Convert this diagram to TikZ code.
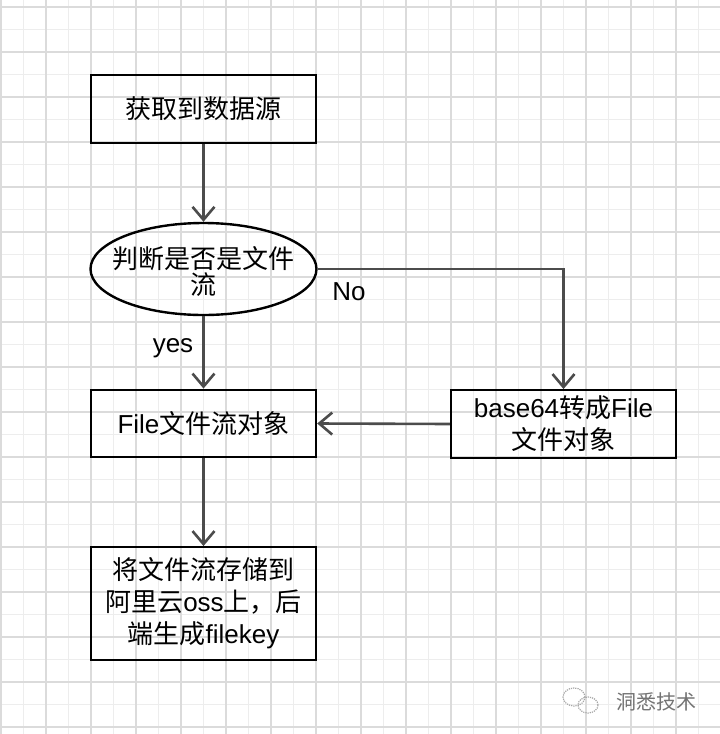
\documentclass[tikz,border=0pt]{standalone}
\usepackage{fontspec}
\setmainfont{Liberation Sans}
\newfontfamily\cjk{Noto Sans CJK SC}
\usetikzlibrary{arrows.meta,shapes.geometric}
\begin{document}
\begin{tikzpicture}[x=1pt,y=-1pt,
  box/.style={draw=black,line width=2.4pt,rectangle,minimum width=225pt,minimum height=67.5pt,inner sep=0pt,align=center,font=\fontsize{26}{32}\selectfont},
  txt/.style={inner sep=0pt,align=center,font=\fontsize{26}{32}\selectfont},
  arr/.style={draw=black!70,line width=2.6pt,-{Straight Barb[length=13pt,width=22pt]}},
  minorgrid/.style={draw=black!7,line width=1pt},
  majorgrid/.style={draw=black!14,line width=1.2pt}]
\useasboundingbox (0,0) rectangle (720,734);
\fill[white] (0,0) rectangle (720,734);
% grid
\foreach \i in {0,...,32} {\draw[minorgrid] ({23.5+45*\i-45},0) -- ({23.5+45*\i-45},734);}
\foreach \i in {0,...,33} {\draw[minorgrid] (0,{29.5+45*\i-45}) -- (720,{29.5+45*\i-45});}
\foreach \i in {0,...,16} {\draw[majorgrid] ({1+45*\i},0) -- ({1+45*\i},734);}
\foreach \i in {0,...,16} {\draw[majorgrid] (0,{7+45*\i}) -- (720,{7+45*\i});}
% nodes
\node[box] (src) at (203.5,109) {\cjk 获取到数据源};
\node[draw=black,line width=2.4pt,ellipse,minimum width=226pt,minimum height=92pt,inner sep=0pt] (dec) at (203.5,269) {};
\node[txt,font=\fontsize{26}{23}\selectfont] (dect) at (203.5,271.5) {\cjk 判断是否是文件\\\cjk 流};
\node[box] (file) at (203.5,423.5) {File{\cjk 文件流对象}};
\node[box] (b64) at (563.5,424) {base64{\cjk 转成}File\\{\cjk 文件对象}};
\node[box,minimum height=112.5pt] (oss) at (203.5,603.5) {{\cjk 将文件流存储到}\\{\cjk 阿里云}oss{\cjk 上，后}\\{\cjk 端生成}filekey};
\node[txt] (no) at (349,292) {No};
\node[txt] (yes) at (173,348) {yes};
% connectors
\draw[arr] (src.south) -- (dec.north);
\draw[arr] (dec.east) -| (b64.north);
\draw[arr] (dec.south) -- (file.north);
\draw[arr] (b64.west) -- (file.east);
\draw[arr] (file.south) -- (oss.north);
% watermark
\node[draw=black!35,densely dotted,line width=1.2pt,ellipse,minimum width=22pt,minimum height=18pt,inner sep=0pt] (wm1) at (574,697) {};
\node[draw=black!35,densely dotted,line width=1.2pt,ellipse,minimum width=20pt,minimum height=16pt,inner sep=0pt] (wm2) at (588,705) {};
\node[inner sep=0pt,text=black!55,font=\fontsize{20}{24}\selectfont] (wmt) at (656,702) {\cjk 洞悉技术};
\end{tikzpicture}
\end{document}
